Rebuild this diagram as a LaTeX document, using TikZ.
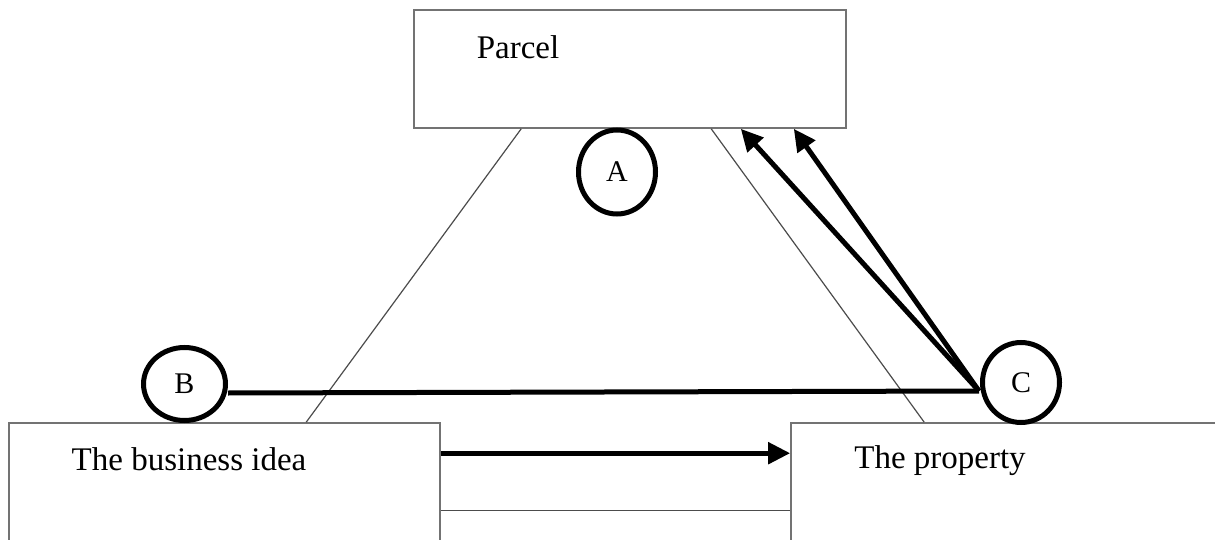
\documentclass[tikz,border=0pt]{standalone}
\usepackage{fontspec}
\setmainfont{Liberation Serif}
\usetikzlibrary{shapes.geometric,arrows.meta,calc}
\begin{document}
\begin{tikzpicture}[x=1pt,y=-1pt,
  box/.style={draw=black!55,line width=1.6pt,fill=white,minimum width=#1,minimum height=118pt,inner sep=0pt},
  label/.style={font=\fontsize{33}{38}\selectfont,inner sep=0pt},
  ring/.style={draw=black,line width=5pt,ellipse,fill=white,inner sep=0pt,font=\fontsize{30}{34}\selectfont},
  thinline/.style={draw=black!70,line width=1.2pt},
  thickline/.style={draw=black,line width=5pt},
  tip/.style={-{Triangle[length=22pt,width=21pt]}}]
\useasboundingbox (0,0) rectangle (1215,540);
\clip (0,0) rectangle (1215,540);
\fill[white] (0,0) rectangle (1215,540);

% the three boxes
\node[box=432pt,minimum height=118pt] (parcel) at (630,69) {};
\node[box=431pt,minimum height=140pt] (biz) at (224.5,493) {};
\node[box=434pt,minimum height=140pt] (prop) at (1008,493) {};

% corner points for the thin connecting lines
\coordinate (pl) at ($(parcel.south west)+(108,0)$);
\coordinate (pr) at ($(parcel.south west)+(298,0)$);
\coordinate (bl) at ($(biz.north west)+(298,0)$);
\coordinate (br) at ($(prop.north west)+(134,0)$);
\draw[thinline] (pl) -- (bl);
\draw[thinline] (pr) -- (br);

% arrow and thin line between the lower boxes
\draw[thickline,tip] ($(biz.north east)+(0,31)$) -- ($(prop.north west)+(0,31)$);
\draw[thinline] ($(biz.north east)+(0,88)$) -- ($(prop.north west)+(0,88)$);

% box labels
\node[label] (tparcel) at (518,47) {Parcel};
\node[label] (tbiz) at (189,459) {The business idea};
\node[label] (tprop) at (940,461) {The property};

% the rings
\node[ring,minimum width=77pt,minimum height=84pt] (A) at (617,172) {A};
\node[ring,minimum width=82pt,minimum height=73pt] (B) at (184.5,384) {B};

% connectors from C
\coordinate (cs) at (979,391);
\coordinate (t1) at ($(parcel.south east)+(-106,0)$);
\coordinate (t2) at ($(parcel.south east)+(-53,0)$);
\draw[thickline] ($(B.east)+(0,9)$) -- (cs);
\draw[thickline,tip] (cs) -- (t1);
\draw[thickline,tip] (cs) -- (t2);
\node[ring,minimum width=77pt,minimum height=80pt] (C) at (1021,382.5) {C};
\end{tikzpicture}
\end{document}
